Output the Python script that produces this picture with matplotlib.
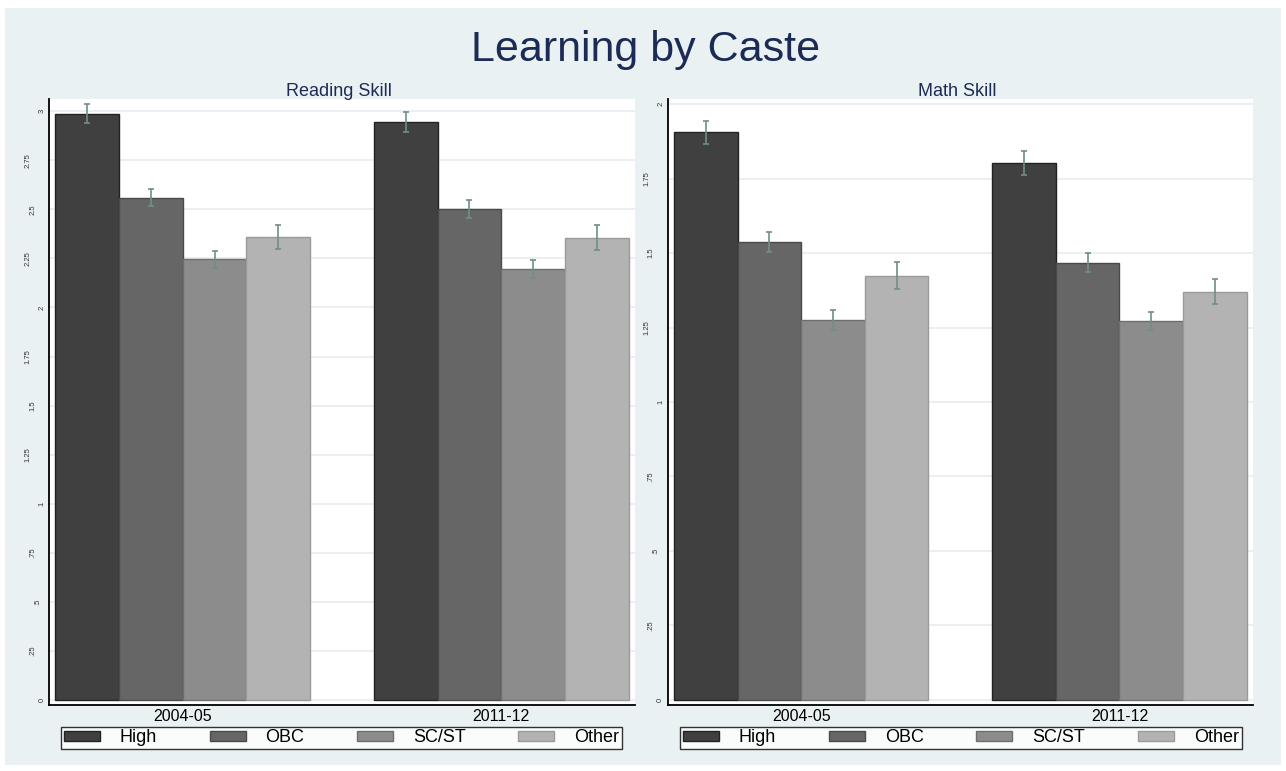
import matplotlib
matplotlib.use("Agg")
import matplotlib.pyplot as plt
import numpy as np
from matplotlib.patches import Rectangle

plt.rcParams['font.family'] = ['Liberation Sans', 'DejaVu Sans']

# ---- data -------------------------------------------------------------
periods = ["2004-05", "2011-12"]
castes = ["High", "OBC", "SC/ST", "Other"]

# mean scores per caste, one value per survey round
reading_high = [2.988, 2.946]
reading_obc = [2.560, 2.501]
reading_scst = [2.246, 2.195]
reading_other = [2.358, 2.355]
# half-width of the confidence interval
reading_high_ci = [0.046, 0.052]
reading_obc_ci = [0.042, 0.046]
reading_scst_ci = [0.043, 0.047]
reading_other_ci = [0.062, 0.063]

math_high = [1.905, 1.802]
math_obc = [1.536, 1.468]
math_scst = [1.275, 1.272]
math_other = [1.424, 1.370]
math_high_ci = [0.039, 0.041]
math_obc_ci = [0.033, 0.031]
math_scst_ci = [0.033, 0.030]
math_other_ci = [0.045, 0.042]

reading_ticks = [0, 0.25, 0.5, 0.75, 1, 1.25, 1.5, 1.75, 2, 2.25, 2.5, 2.75, 3]
reading_ticklabels = ["0", ".25", ".5", ".75", "1", "1.25", "1.5", "1.75",
                      "2", "2.25", "2.5", "2.75", "3"]
math_ticks = [0, 0.25, 0.5, 0.75, 1, 1.25, 1.5, 1.75, 2]
math_ticklabels = ["0", ".25", ".5", ".75", "1", "1.25", "1.5", "1.75", "2"]

# ---- style ------------------------------------------------------------
W, H = 1286, 771
BG = "#EAF1F3"
NAVY = "#1C2B56"
fills = ["#404040", "#666666", "#8C8C8C", "#B3B3B3"]
edges = ["#222222", "#4A4A4A", "#6E6E6E", "#9A9A9A"]
CI_COLOR = "#6F8F86"

fig = plt.figure(figsize=(W / 100, H / 100), dpi=100, facecolor="white")
fig.patches.append(Rectangle((5 / W, 6 / H), 1276 / W, 757 / H,
                             transform=fig.transFigure, facecolor=BG,
                             edgecolor="none", zorder=-10))


def px_box(x0, x1, ytop, ybot):
    return [x0 / W, 1 - ybot / H, (x1 - x0) / W, (ybot - ytop) / H]


def panel(rect, series, cis, ticks, ticklabels, ylim, title, title_x, legend_box):
    ax = fig.add_axes(rect)
    ax.set_facecolor("white")
    group_centers = np.array([0.0, 5.0])
    width = 1.0
    containers = []
    for i, (vals, ci) in enumerate(zip(series, cis)):
        x = group_centers + (i - 1.5) * width
        bc = ax.bar(x, vals, width=width, color=fills[i], edgecolor=edges[i],
                    linewidth=1.0, label=castes[i], zorder=2)
        containers.append(bc)
        ax.errorbar(x, vals, yerr=ci, fmt="none", ecolor=CI_COLOR,
                    elinewidth=1.2, capsize=2.2, capthick=1.2, zorder=3)
    ax.set_xlim(-2.1, 7.1)
    ax.set_ylim(*ylim)
    ax.set_axisbelow(True)
    ax.yaxis.grid(True, color="#E8EFF1", linewidth=1.3)
    ax.xaxis.grid(False)
    for s in ("top", "right"):
        ax.spines[s].set_visible(False)
    for s in ("left", "bottom"):
        ax.spines[s].set_color("black")
        ax.spines[s].set_linewidth(1.3)

    ax.tick_params(axis="y", length=0, pad=2.5, labelsize=5.5,
                   labelrotation=90, labelcolor="#333333")
    ax.set_yticks(ticks, ticklabels)
    axes_w_px = rect[2] * W
    for lab in ax.get_yticklabels():
        # longer labels sit further out from the axis line
        shift_px = 4.7 * (len(lab.get_text()) - 1)
        lab.set_x(-shift_px / axes_w_px)
        lab.set_verticalalignment("center")

    ax.tick_params(axis="x", length=0, pad=3, labelsize=11.5, labelcolor="black")
    ax.set_xticks(group_centers, periods)

    fig.text(title_x / W, 1 - 95.7 / H, title, ha="center", va="baseline",
             fontsize=13, color=NAVY)

    leg = fig.legend(handles=containers, labels=castes, loc="lower left",
                     bbox_to_anchor=legend_box, mode="expand", ncol=4,
                     fontsize=13, frameon=True, fancybox=False, shadow=False,
                     borderpad=0.15, borderaxespad=0, handlelength=2.0,
                     handleheight=0.45, handletextpad=1.1, columnspacing=1.0)
    frame = leg.get_frame()
    frame.set_edgecolor("black")
    frame.set_linewidth(1.0)
    frame.set_facecolor("white")
    return ax


panel(px_box(49, 635, 99, 705),
      [reading_high, reading_obc, reading_scst, reading_other],
      [reading_high_ci, reading_obc_ci, reading_scst_ci, reading_other_ci],
      reading_ticks, reading_ticklabels, (-0.025, 3.062),
      "Reading Skill", 339, (61 / W, 1 - 749 / H, 561 / W, 23 / H))

panel(px_box(667.6, 1253, 99, 705),
      [math_high, math_obc, math_scst, math_other],
      [math_high_ci, math_obc_ci, math_scst_ci, math_other_ci],
      math_ticks, math_ticklabels, (-0.017, 2.017),
      "Math Skill", 957, (680 / W, 1 - 749 / H, 561.5 / W, 23 / H))

fig.text(646 / W, 1 - 60.7 / H, "Learning by Caste", ha="center",
         va="baseline", fontsize=31, color=NAVY)

fig.savefig("out.png", dpi=100, facecolor=fig.get_facecolor())
